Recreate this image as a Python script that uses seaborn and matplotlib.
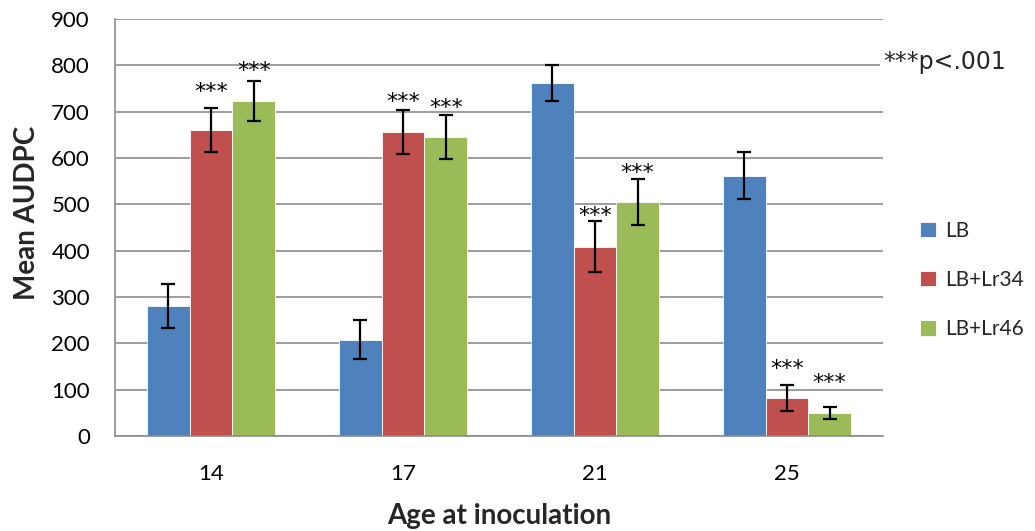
import matplotlib
matplotlib.use("Agg")
import matplotlib.pyplot as plt
import seaborn as sns
import pandas as pd
import numpy as np

# Mean AUDPC by age at inoculation and line
ages = ["14", "17", "21", "25"]
lines = ["LB", "LB+Lr34", "LB+Lr46"]
mean_lb = [280, 208, 762, 562]
mean_lr34 = [661, 656, 409, 82]
mean_lr46 = [723, 645, 505, 50]
err_lb = [47, 42, 38, 51]
err_lr34 = [47, 47, 55, 29]
err_lr46 = [43, 47, 50, 13]
# significance marks (LB+Lr34 and LB+Lr46 versus LB)
sig_lr34 = ["***", "***", "***", "***"]
sig_lr46 = ["***", "***", "***", "***"]

colors = ["#4F81BD", "#C0504D", "#9BBB59"]
font = ["Lato", "DejaVu Sans"]
star_font = ["DejaVu Sans"]

df = pd.DataFrame({
    "age": ages * 3,
    "line": [l for l in lines for _ in ages],
    "audpc": mean_lb + mean_lr34 + mean_lr46,
})
errors = [err_lb, err_lr34, err_lr46]
marks = [None, sig_lr34, sig_lr46]

sns.set_theme(style="white")
plt.rcParams["font.family"] = font

fig = plt.figure(figsize=(10.35, 5.31), dpi=100)
ax = fig.add_axes([0.1111, 0.1789, 0.7420, 0.7853])

sns.barplot(data=df, x="age", y="audpc", hue="line", order=ages,
            hue_order=lines, palette=colors, width=0.667, errorbar=None,
            saturation=1, edgecolor="white", linewidth=0.6, ax=ax, zorder=2)

bar_groups = list(ax.containers)
# vertical gap between each bar top and the baseline of its significance mark
offsets = [[0, 69, 51], [0, 51, 49], [0, 52, 49], [0, 49, 51]]
for j, cont in enumerate(bar_groups):
    xs = [p.get_x() + p.get_width() / 2 for p in cont.patches]
    hs = [p.get_height() for p in cont.patches]
    ax.errorbar(xs, hs, yerr=errors[j], fmt="none", ecolor="black",
                elinewidth=1.6, capsize=5, capthick=1.6, zorder=3)
    if marks[j] is not None:
        for i, (x, h) in enumerate(zip(xs, hs)):
            ax.text(x, h + offsets[i][j], marks[j][i], ha="center",
                    va="baseline", fontsize=16, family=star_font,
                    color="black", zorder=4)

ax.set_ylim(0, 900)
ax.set_yticks(range(0, 901, 100))
ax.set_xlim(-0.5, 3.5)
ax.yaxis.grid(True, color="#8C8C8C", linewidth=1.2, zorder=0)
ax.set_axisbelow(True)
for side in ["top", "right"]:
    ax.spines[side].set_visible(False)
for side in ["left", "bottom"]:
    ax.spines[side].set_color("#8C8C8C")
    ax.spines[side].set_linewidth(1.2)
ax.tick_params(axis="both", length=0, labelsize=16, colors="black")
ax.tick_params(axis="y", pad=18)
ax.tick_params(axis="x", pad=20)
ax.set_xlabel("Age at inoculation", fontsize=20, fontweight="bold", labelpad=14)
ax.set_ylabel("Mean AUDPC", fontsize=20, fontweight="bold", labelpad=6)
ax.yaxis.set_label_coords(-0.097, 0.535)

fig.text(0.853, 0.883, "***p<.001", fontsize=17, family=star_font,
         va="center", ha="left",
         bbox=dict(facecolor="white", edgecolor="none", pad=2))

handles, labels = ax.get_legend_handles_labels()
ax.legend(handles, labels, loc="center left", bbox_to_anchor=(1.024, 0.374),
          frameon=False, fontsize=15, handlelength=0.75, handleheight=0.75,
          handletextpad=0.45, labelspacing=1.4)

fig.savefig("out.png", dpi=100, facecolor="white")
